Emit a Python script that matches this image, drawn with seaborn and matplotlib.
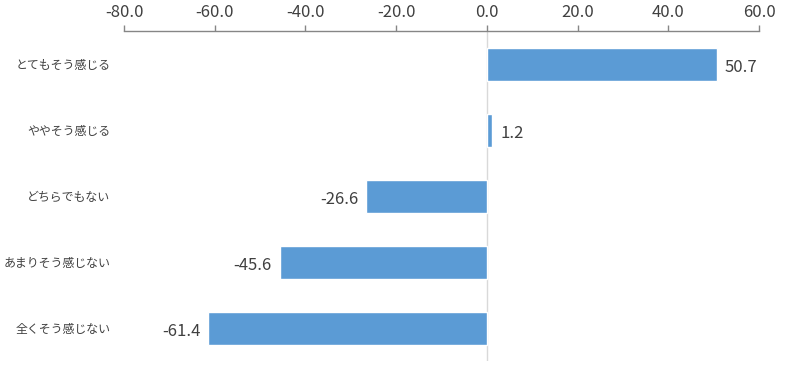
import matplotlib
matplotlib.use("Agg")
import matplotlib.pyplot as plt
import seaborn as sns
import pandas as pd

categories = ["とてもそう感じる", "ややそう感じる", "どちらでもない", "あまりそう感じない", "全くそう感じない"]
values = [50.7, 1.2, -26.6, -45.6, -61.4]
xticks = [-80, -60, -40, -20, 0, 20, 40, 60]

sns.set_theme(style="white")
plt.rcParams['font.family'] = ['Noto Sans CJK JP', 'DejaVu Sans']

df = pd.DataFrame({"cat": categories, "val": values})

fig = plt.figure(figsize=(7.97, 3.84), dpi=100)
ax = fig.add_axes([124/797, 1-361/384, (759-124)/797, (361-31)/384])

ax.axvline(0, color="#D9D9D9", lw=1, zorder=0)
sns.barplot(data=df, x="val", y="cat", orient="h", color="#5B9BD5", saturation=1,
            width=0.5, ax=ax, zorder=2)

ax.set_xlim(-80, 60)
ax.set_xticks(xticks)
ax.set_xticklabels([f"{t:.1f}" for t in xticks])
ax.xaxis.tick_top()
ax.tick_params(axis="x", direction="out", length=4, width=1, color="#868686",
               labelsize=12, labelcolor="#404040", pad=3, top=True, bottom=False)
ax.tick_params(axis="y", length=0, labelsize=8.6, labelcolor="#404040", pad=10)
for s in ["bottom", "left", "right"]:
    ax.spines[s].set_visible(False)
ax.spines["top"].set_color("#868686")
ax.spines["top"].set_linewidth(1)
ax.set_xlabel("")
ax.set_ylabel("")

for i, v in enumerate(values):
    if v >= 0:
        ax.text(v + 1.8, i + 0.05, f"{v:.1f}", ha="left", va="center", fontsize=12, color="#404040")
    else:
        ax.text(v - 1.8, i + 0.05, f"{v:.1f}", ha="right", va="center", fontsize=12, color="#404040")

fig.savefig("out.png", dpi=100)
